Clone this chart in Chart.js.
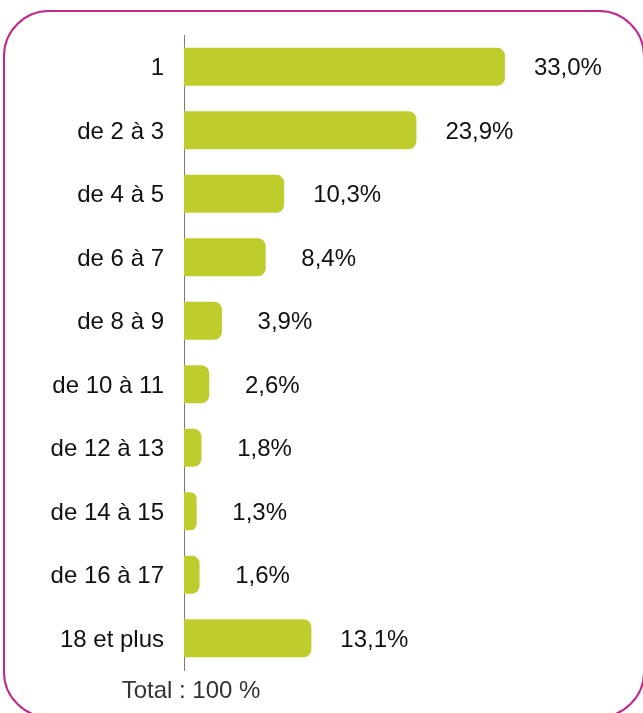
<!DOCTYPE html>
<html>
<head>
<meta charset="utf-8">
<script src="https://cdn.jsdelivr.net/npm/chart.js@4"></script>
<style>
  html, body { margin: 0; padding: 0; background: #fff; overflow: hidden; }
  #cadre {
    position: absolute; left: 3px; top: 10px; width: 642px; height: 708px;
    border: 2px solid #c3288a; border-radius: 46px; box-sizing: border-box;
  }
  #zone { position: absolute; left: 0; top: 0; width: 643px; height: 713px; }
</style>
</head>
<body>
<div id="cadre"></div>
<div id="zone"><canvas id="grafico" width="643" height="713"></canvas></div>
<script>
const categorias = ['1', 'de 2 à 3', 'de 4 à 5', 'de 6 à 7', 'de 8 à 9', 'de 10 à 11', 'de 12 à 13', 'de 14 à 15', 'de 16 à 17', '18 et plus'];
const valores = [33.0, 23.9, 10.3, 8.4, 3.9, 2.6, 1.8, 1.3, 1.6, 13.1];
const totalTexto = 'Total : 100 %';

const fonte = '"Liberation Sans", Arial, sans-serif';

// rótulos de valor à direita das barras + texto do total
const rotulos = {
    id: 'rotulos',
    afterDatasetsDraw(chart) {
        const c = chart.ctx;
        const meta = chart.getDatasetMeta(0);
        c.save();
        c.font = '24px ' + fonte;
        c.fillStyle = '#111';
        c.textAlign = 'center';
        c.textBaseline = 'middle';
        meta.data.forEach((bar, i) => {
            c.fillText(valores[i].toFixed(1).replace('.', ',') + '%', bar.x + 63, bar.y + 2);
        });
        c.fillStyle = '#333';
        c.fillText(totalTexto, 191, 691);
        c.restore();
    }
};

new Chart(document.getElementById('grafico'), {
    type: 'bar',
    data: {
        labels: categorias,
        datasets: [{
            data: valores,
            backgroundColor: '#bfcd2c',
            borderRadius: 8,
            barPercentage: 0.6,
            categoryPercentage: 1
        }]
    },
    options: {
        indexAxis: 'y',
        responsive: false,
        animation: false,
        layout: { padding: { left: 0, right: 70, top: 35, bottom: 43 } },
        plugins: { legend: { display: false }, tooltip: { enabled: false } },
        scales: {
            x: { display: false, min: 0, max: 40 },
            y: {
                afterFit: (scale) => { scale.width = 184; },
                grid: { display: false, drawTicks: false },
                border: { display: true, color: '#7a7a7a', width: 1 },
                ticks: { color: '#111', padding: 20, labelOffset: 2, font: { size: 24, family: fonte } }
            }
        }
    },
    plugins: [rotulos]
});
</script>
</body>
</html>
